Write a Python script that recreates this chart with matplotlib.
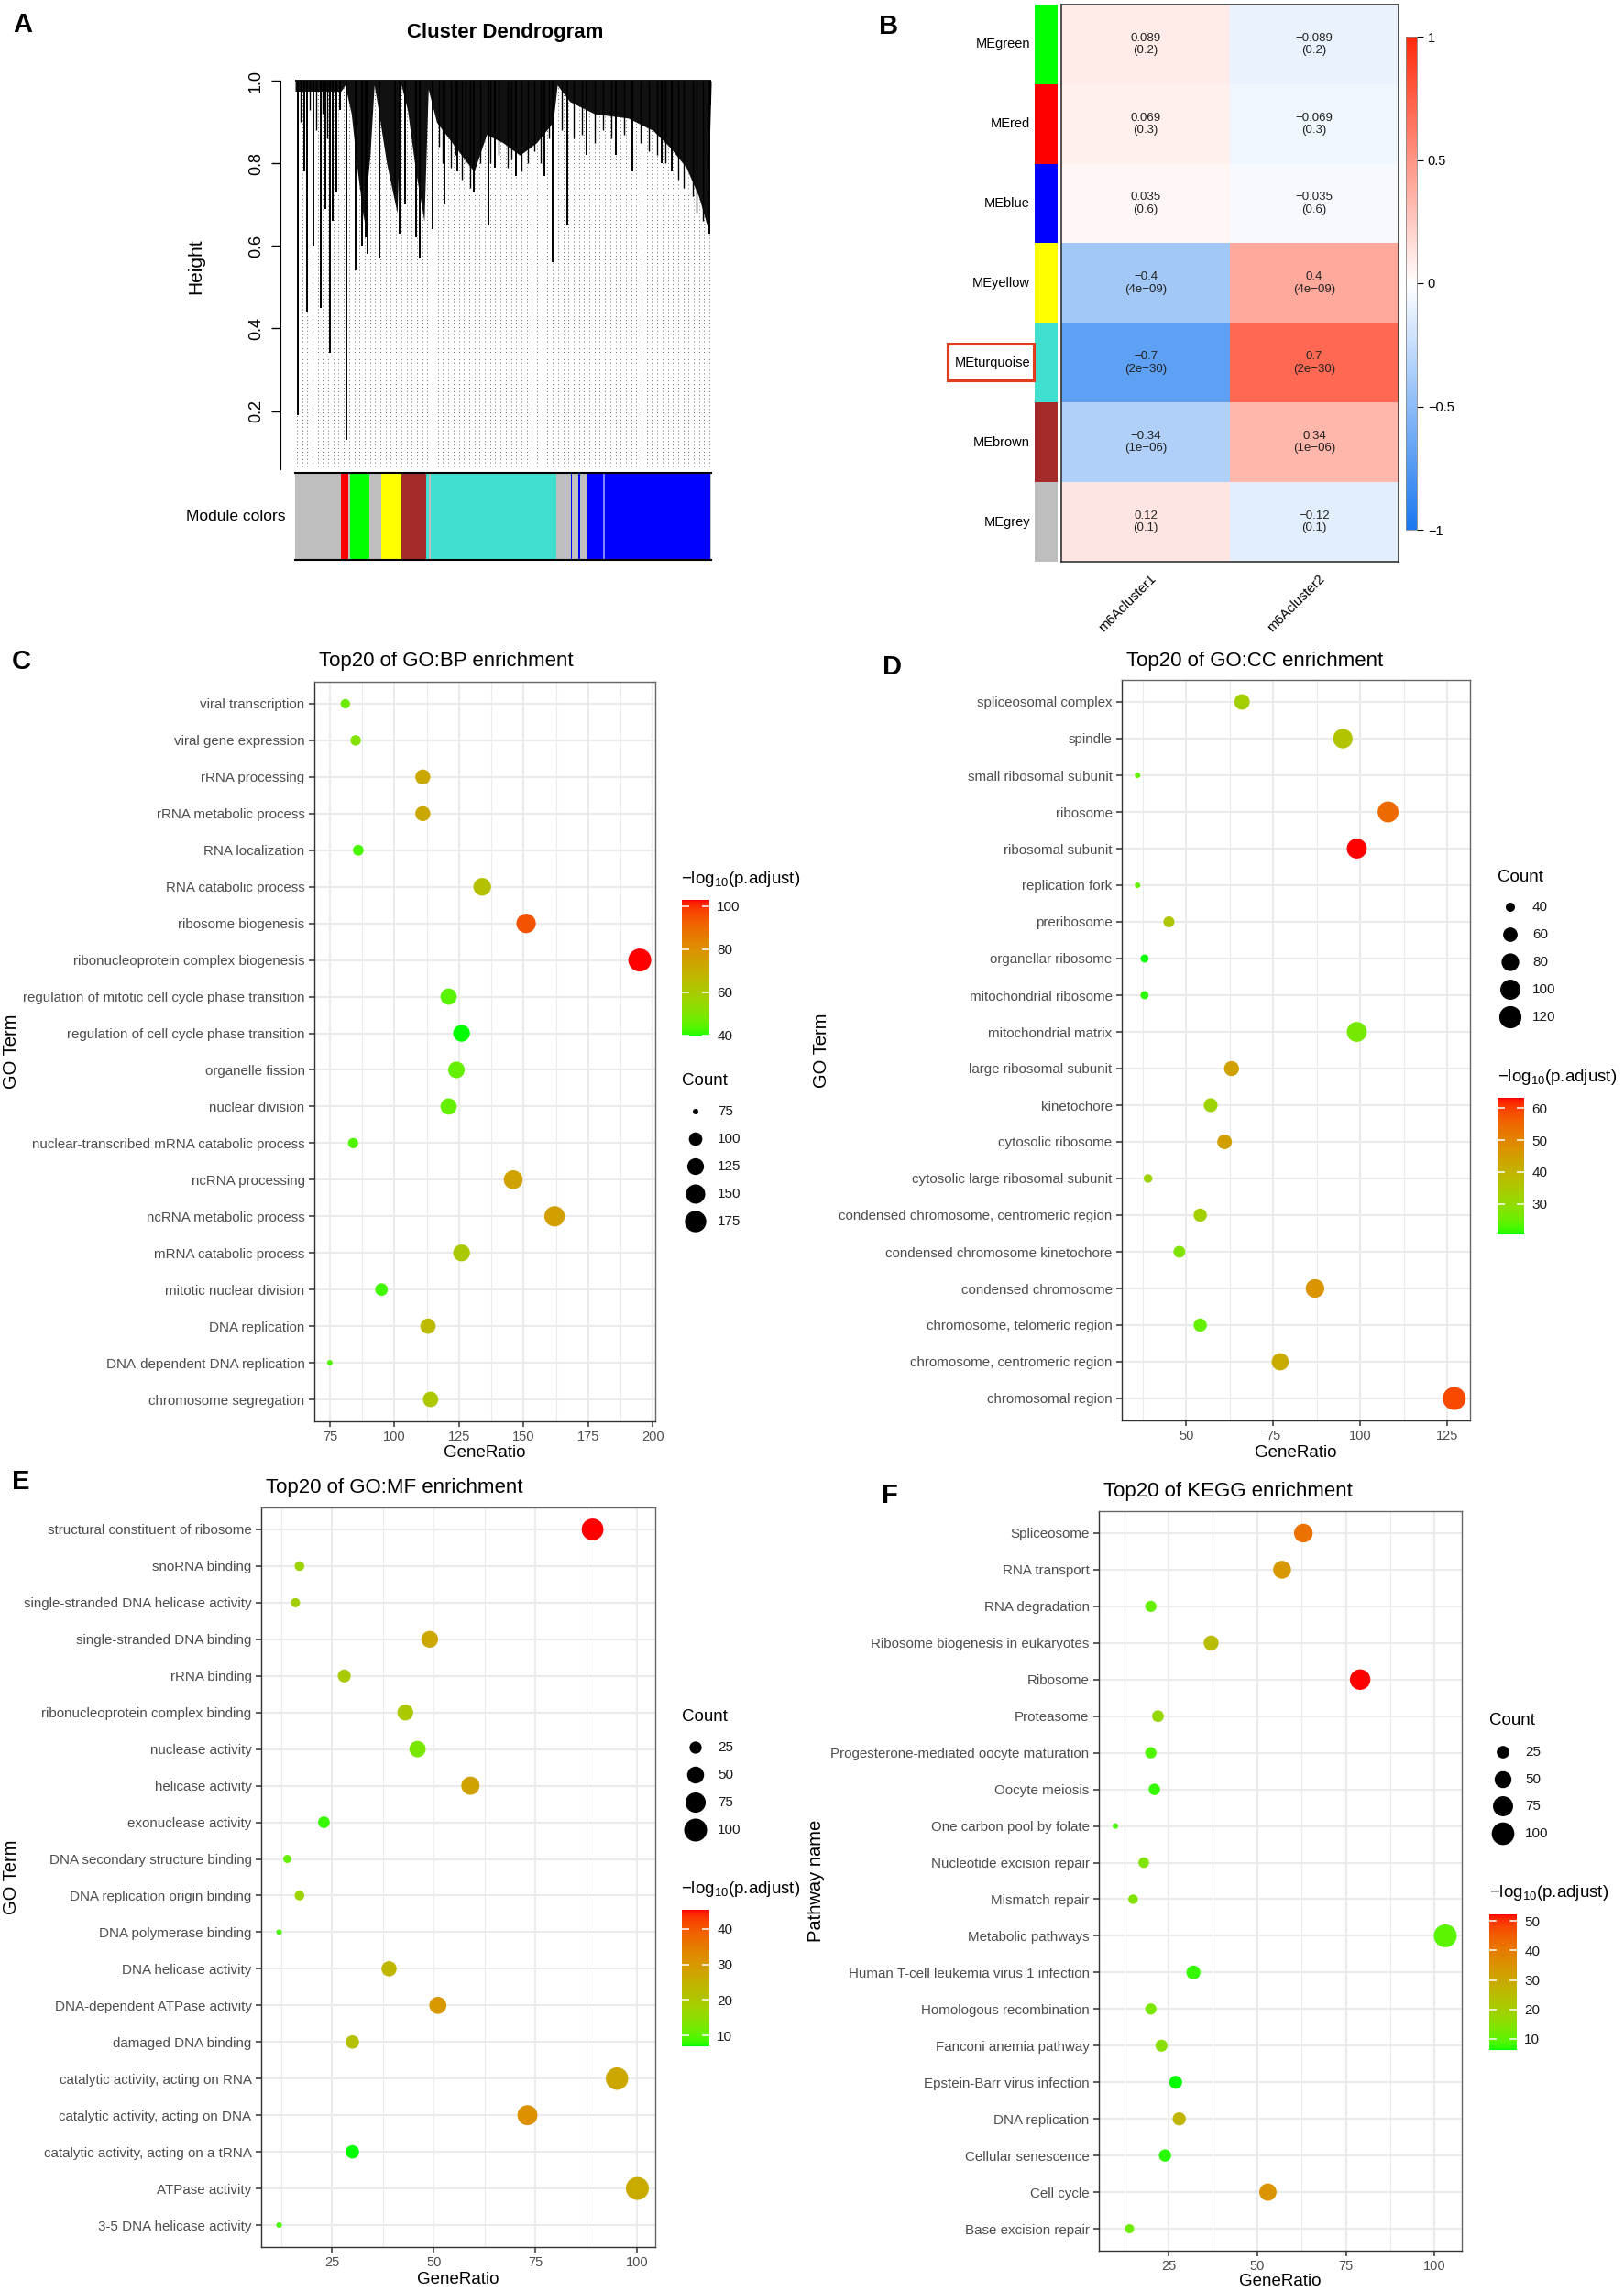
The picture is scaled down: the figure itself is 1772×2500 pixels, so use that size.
import matplotlib
matplotlib.use('Agg')
import matplotlib.pyplot as plt
import matplotlib.colors as mcolors
from matplotlib.cm import ScalarMappable
from matplotlib.patches import Rectangle
import numpy as np

plt.rcParams['font.family'] = ['Liberation Sans', 'DejaVu Sans']
plt.rcParams['mathtext.fontset'] = 'custom'
plt.rcParams['mathtext.rm'] = 'Liberation Sans'
plt.rcParams['mathtext.it'] = 'Liberation Sans:italic'

# ---------------- data ----------------
# panel A: dendrogram (leaf position as fraction of tree width, height)
dendro_env_x = [0.0, 0.11, 0.12, 0.135, 0.15, 0.165, 0.18, 0.19, 0.2, 0.22, 0.245, 0.255, 0.27, 0.29,
                0.31, 0.32, 0.34, 0.37, 0.40, 0.43, 0.46, 0.50, 0.54, 0.58, 0.62, 0.63, 0.66, 0.72,
                0.80, 0.86, 0.90, 0.94, 0.97, 0.99, 1.0]
dendro_env_h = [0.975, 0.975, 0.99, 0.92, 0.78, 0.66, 0.82, 0.99, 0.93, 0.80, 0.68, 0.99, 0.93, 0.78,
                0.66, 0.98, 0.90, 0.86, 0.82, 0.78, 0.87, 0.85, 0.82, 0.85, 0.90, 0.99, 0.95, 0.92,
                0.91, 0.88, 0.84, 0.79, 0.72, 0.65, 0.99]
dendro_spike_x = [0.006, 0.022, 0.029, 0.043, 0.061, 0.073, 0.084, 0.091, 0.099, 0.107, 0.124,
                  0.145, 0.16, 0.170, 0.175, 0.202, 0.24, 0.25, 0.265, 0.29, 0.30, 0.33, 0.36,
                  0.39, 0.43, 0.465, 0.48, 0.53, 0.60, 0.62, 0.655, 0.70, 0.77, 0.81, 0.88,
                  0.905, 0.995, 0.999]
dendro_spike_h = [0.19, 0.78, 0.44, 0.60, 0.45, 0.69, 0.34, 0.66, 0.73, 0.93, 0.13,
                  0.54, 0.60, 0.62, 0.58, 0.57, 0.72, 0.63, 0.70, 0.62, 0.57, 0.64, 0.70,
                  0.78, 0.73, 0.65, 0.79, 0.77, 0.77, 0.56, 0.65, 0.82, 0.82, 0.78, 0.80,
                  0.78, 0.63, 0.94]
# shorter branches that make the ragged lower edge of the dense clusters
dendro_twig_x = [0.013, 0.035, 0.05, 0.067, 0.078, 0.345, 0.355, 0.375, 0.385, 0.40, 0.41, 0.42,
                 0.445, 0.47, 0.49, 0.51, 0.52, 0.545, 0.56, 0.575, 0.59, 0.61, 0.64, 0.67, 0.69,
                 0.72, 0.74, 0.76, 0.79, 0.83, 0.85, 0.87, 0.89, 0.92, 0.935, 0.955, 0.965, 0.98]
dendro_twig_h = [0.90, 0.93, 0.88, 0.92, 0.86, 0.84, 0.80, 0.79, 0.82, 0.76, 0.80, 0.74,
                 0.80, 0.80, 0.82, 0.79, 0.81, 0.78, 0.80, 0.83, 0.80, 0.86, 0.88, 0.86, 0.87,
                 0.85, 0.88, 0.86, 0.87, 0.85, 0.83, 0.82, 0.80, 0.76, 0.74, 0.72, 0.68, 0.66]
module_start = [0.000, 0.110, 0.127, 0.133, 0.178, 0.206, 0.256, 0.315, 0.322, 0.326, 0.627,
                0.662, 0.680, 0.700, 0.740, 0.745, 0.998]
module_end = [0.110, 0.127, 0.133, 0.178, 0.206, 0.256, 0.315, 0.322, 0.326, 0.627, 0.700,
              0.665, 0.684, 0.740, 0.745, 0.998, 1.000]
module_color = ['#BEBEBE', '#FF0000', '#BEBEBE', '#00FF00', '#BEBEBE', '#FFFF00', '#A52A2A',
                '#40E0D0', '#BEBEBE', '#40E0D0', '#BEBEBE', '#0000FF', '#0000FF', '#0000FF',
                '#7F7FFF', '#0000FF', '#BEBEBE']

# panel B: module-trait correlation
me_names = ['MEgreen', 'MEred', 'MEblue', 'MEyellow', 'MEturquoise', 'MEbrown', 'MEgrey']
me_colors = ['#00FF00', '#FF0000', '#0000FF', '#FFFF00', '#40E0D0', '#A52A2A', '#BEBEBE']
traits = ['m6Acluster1', 'm6Acluster2']
cor_cluster1 = [0.089, 0.069, 0.035, -0.4, -0.7, -0.34, 0.12]
cor_cluster2 = [-0.089, -0.069, -0.035, 0.4, 0.7, 0.34, -0.12]
cor_pvalue = ['0.2', '0.3', '0.6', '4e-09', '2e-30', '1e-06', '0.1']

# panel C: GO BP
bp_terms = ['viral transcription', 'viral gene expression', 'rRNA processing', 'rRNA metabolic process',
            'RNA localization', 'RNA catabolic process', 'ribosome biogenesis',
            'ribonucleoprotein complex biogenesis', 'regulation of mitotic cell cycle phase transition',
            'regulation of cell cycle phase transition', 'organelle fission', 'nuclear division',
            'nuclear-transcribed mRNA catabolic process', 'ncRNA processing', 'ncRNA metabolic process',
            'mRNA catabolic process', 'mitotic nuclear division', 'DNA replication',
            'DNA-dependent DNA replication', 'chromosome segregation']
bp_count = [81, 85, 111, 111, 86, 134, 151, 195, 121, 126, 124, 121, 84, 146, 162, 126, 95, 113, 75, 114]
bp_logp = [47, 51, 72, 72, 42.5, 63.5, 95, 102.8, 44.5, 39.4, 45.7, 45.7, 43.2, 74.3, 75, 60.3, 42, 66, 43.8, 61]

# panel D: GO CC
cc_terms = ['spliceosomal complex', 'spindle', 'small ribosomal subunit', 'ribosome', 'ribosomal subunit',
            'replication fork', 'preribosome', 'organellar ribosome', 'mitochondrial ribosome',
            'mitochondrial matrix', 'large ribosomal subunit', 'kinetochore', 'cytosolic ribosome',
            'cytosolic large ribosomal subunit', 'condensed chromosome, centromeric region',
            'condensed chromosome kinetochore', 'condensed chromosome', 'chromosome, telomeric region',
            'chromosome, centromeric region', 'chromosomal region']
cc_count = [66, 95, 36, 108, 99, 36, 45, 38, 38, 99, 63, 57, 61, 39, 54, 48, 87, 54, 77, 127]
cc_logp = [33.3, 36.3, 24.7, 54.7, 63.3, 24.7, 35.4, 20.4, 21.3, 26.4, 44, 32, 44.4, 32, 33.3, 27.7, 47, 24.7, 41.9, 59]

# panel E: GO MF
mf_terms = ['structural constituent of ribosome', 'snoRNA binding', 'single-stranded DNA helicase activity',
            'single-stranded DNA binding', 'rRNA binding', 'ribonucleoprotein complex binding',
            'nuclease activity', 'helicase activity', 'exonuclease activity', 'DNA secondary structure binding',
            'DNA replication origin binding', 'DNA polymerase binding', 'DNA helicase activity',
            'DNA-dependent ATPase activity', 'damaged DNA binding', 'catalytic activity, acting on RNA',
            'catalytic activity, acting on DNA', 'catalytic activity, acting on a tRNA', 'ATPase activity',
            '3-5 DNA helicase activity']
mf_count = [89, 17, 16, 49, 28, 43, 46, 59, 23, 14, 17, 12, 39, 51, 30, 95, 73, 30, 100, 12]
mf_logp = [45.3, 17.3, 18.5, 26.9, 19.3, 20, 12.7, 28, 8.1, 10.8, 17.3, 8.9, 23.9, 30, 21.6, 26.9, 31.1, 7.0, 26.2, 8.9]

# panel F: KEGG
kegg_terms = ['Spliceosome', 'RNA transport', 'RNA degradation', 'Ribosome biogenesis in eukaryotes',
              'Ribosome', 'Proteasome', 'Progesterone-mediated oocyte maturation', 'Oocyte meiosis',
              'One carbon pool by folate', 'Nucleotide excision repair', 'Mismatch repair',
              'Metabolic pathways', 'Human T-cell leukemia virus 1 infection', 'Homologous recombination',
              'Fanconi anemia pathway', 'Epstein-Barr virus infection', 'DNA replication',
              'Cellular senescence', 'Cell cycle', 'Base excision repair']
kegg_count = [63, 57, 20, 37, 79, 22, 20, 21, 10, 18, 15, 103, 32, 20, 23, 27, 28, 24, 53, 14]
kegg_logp = [41.7, 33.9, 10.8, 24.6, 52.3, 17.7, 9, 7.6, 8.5, 14, 14, 9.9, 7.6, 13.1, 15.4, 6.2, 26.9, 7.1, 34.8, 11.7]

# ---------------- helpers ----------------
W, H = 1772, 2500
fig = plt.figure(figsize=(W / 100, H / 100), dpi=100)


def add_px_axes(x0, y0, x1, y1, **kw):
    return fig.add_axes([x0 / W, 1 - y1 / H, (x1 - x0) / W, (y1 - y0) / H], **kw)


ov = fig.add_axes([0, 0, 1, 1], zorder=5)
ov.set_xlim(0, W)
ov.set_ylim(H, 0)
ov.axis('off')


def lab_gradient(c0, c1, n=256):
    # ggplot-like gradient, interpolated in Lab space
    M = np.array([[0.4124, 0.3576, 0.1805], [0.2126, 0.7152, 0.0722], [0.0193, 0.1192, 0.9505]])
    white = np.array([0.95047, 1.0, 1.08883])

    def to_lab(c):
        rgb = np.array(mcolors.to_rgb(c))
        lin = np.where(rgb > 0.04045, ((rgb + 0.055) / 1.055) ** 2.4, rgb / 12.92)
        xyz = M @ lin / white
        f = np.where(xyz > 0.008856, np.cbrt(xyz), 7.787 * xyz + 16 / 116)
        return np.array([116 * f[1] - 16, 500 * (f[0] - f[1]), 200 * (f[1] - f[2])])

    l0, l1 = to_lab(c0), to_lab(c1)
    t = np.linspace(0, 1, n)[:, None]
    lab = l0 + (l1 - l0) * t
    fy = (lab[:, 0] + 16) / 116
    f = np.stack([fy + lab[:, 1] / 500, fy, fy - lab[:, 2] / 200], axis=1)
    xyz = np.where(f ** 3 > 0.008856, f ** 3, (f - 16 / 116) / 7.787) * white
    lin = xyz @ np.linalg.inv(M).T
    lin = np.clip(lin, 0, None)
    rgb = np.where(lin > 0.0031308, 1.055 * lin ** (1 / 2.4) - 0.055, 12.92 * lin)
    return mcolors.ListedColormap(np.clip(rgb, 0, 1))


gr_cmap = lab_gradient('#00FF00', '#FF0000')
bwr_cmap = mcolors.LinearSegmentedColormap.from_list('bwr_w', ['#1A78F0', '#FFFFFF', '#FF2A0A'])


def dot_size(vals, lo, hi):
    t = np.clip((np.asarray(vals, float) - lo) / (hi - lo), 0, 1)
    d_px = 6 + 19 * np.sqrt(t)
    return (d_px * 0.72) ** 2


def dot_panel(terms, counts, logp, lay):
    ax = add_px_axes(*lay['rect'])
    n = len(terms)
    ypos = np.arange(n)[::-1]
    lo, hi = min(counts), max(counts)
    pad = 0.05 * (hi - lo)
    norm = mcolors.Normalize(min(logp), max(logp))
    ax.scatter(counts, ypos, s=dot_size(counts, lo, hi), c=logp, cmap=gr_cmap, norm=norm,
               edgecolors='none', zorder=3)
    ax.set_xlim(lo - pad, hi + pad)
    ax.set_ylim(-0.6, n - 0.4)
    ax.set_yticks(ypos)
    ax.set_yticklabels(terms)
    ticks = lay['ticks']
    ax.set_xticks(ticks)
    step = ticks[1] - ticks[0]
    minors = [t - step / 2 for t in ticks] + [ticks[-1] + step / 2]
    minors = [m for m in minors if lo - pad < m < hi + pad]
    ax.set_xticks(minors, minor=True)
    ax.tick_params(axis='x', which='minor', length=0)
    ax.grid(which='major', color='#EBEBEB', lw=1.5)
    ax.grid(which='minor', axis='x', color='#EBEBEB', lw=0.8)
    ax.set_axisbelow(True)
    ax.tick_params(which='major', length=4, width=1.1, color='#333333', labelcolor='#4D4D4D',
                   labelsize=10.5)
    ax.tick_params(axis='y', labelsize=10.9)
    for sp in ax.spines.values():
        sp.set_color('#666666')
        sp.set_linewidth(1.0)
    ax.spines['left'].set_color('#333333')
    ax.spines['bottom'].set_color('#333333')

    x0, y0, x1, y1 = lay['rect']
    ov.text(lay['title'][0], lay['title'][1], lay['title_text'], fontsize=16, ha='center', va='center')
    ov.text(lay['letter'][0], lay['letter'][1], lay['letter_text'], fontsize=21, fontweight='bold',
            ha='center', va='center')
    ov.text((x0 + x1) / 2, lay['xlabel_y'], 'GeneRatio', fontsize=13.5, ha='center', va='center')
    ov.text(lay['ylabel'][0], lay['ylabel'][1], lay['ylabel_text'], fontsize=14.5, rotation=90,
            ha='center', va='center')

    # size legend
    tx, ty = lay['count_title']
    ov.text(tx, ty, 'Count', fontsize=13.5, ha='left', va='center')
    cx = lay['count_x']
    for v, cy in zip(lay['count_vals'], lay['count_ys']):
        ov.scatter([cx], [cy], s=dot_size([v], lo, hi), color='black', edgecolors='none')
        ov.text(cx + 24, cy, str(v), fontsize=11, ha='left', va='center', color='#1A1A1A')

    # colour legend
    tx, ty = lay['cbar_title']
    ov.text(tx, ty, '\u2212log$_{10}$(p.adjust)', fontsize=13.5, ha='left', va='center')
    cax = add_px_axes(*lay['cbar_rect'])
    cb = fig.colorbar(ScalarMappable(norm=norm, cmap=gr_cmap), cax=cax, ticks=lay['cbar_ticks'])
    cb.outline.set_visible(False)
    cax.yaxis.set_ticks_position('both')
    cax.tick_params(axis='y', direction='in', length=6, width=1.1, color='white', labelsize=11,
                    labelcolor='#1A1A1A', labelleft=False, labelright=True, pad=6)
    return ax


# ---------------- panel A: dendrogram ----------------
axd = add_px_axes(322, 86, 776, 512)
axd.set_xlim(0, 1)
axd.set_ylim(0.059, 1.005)
leaf_x = np.linspace(0.004, 0.996, 80)
axd.vlines(leaf_x, 0.065, 0.99, colors='#666666', linestyles=(0, (1, 3)), lw=0.7, zorder=1)
axd.fill_between(dendro_env_x, dendro_env_h, 1.0, color='#111111', lw=0, zorder=2)
axd.vlines(dendro_spike_x, dendro_spike_h, 1.0, colors='black', lw=1.4, zorder=3)
axd.vlines(dendro_twig_x, dendro_twig_h, 1.0, colors='black', lw=1.0, zorder=3)
axd.hlines(1.0, 0, 1, colors='black', lw=1.3, zorder=3)
for s in ['top', 'right', 'bottom']:
    axd.spines[s].set_visible(False)
axd.spines['left'].set_position(('outward', 11.5))
axd.spines['left'].set_bounds(0.059, 1.0)
axd.set_xticks([])
axd.set_yticks([0.2, 0.4, 0.6, 0.8, 1.0])
axd.set_yticklabels(['0.2', '0.4', '0.6', '0.8', '1.0'], rotation=90, va='center')
axd.tick_params(axis='y', length=7, width=1, labelsize=13, pad=6)
ov.text(214, 291, 'Height', fontsize=15, rotation=90, ha='center', va='center')
ov.text(551, 35, 'Cluster Dendrogram', fontsize=16, fontweight='bold', ha='center', va='center')
ov.text(25, 27, 'A', fontsize=21, fontweight='bold', ha='center', va='center')

axm = add_px_axes(322, 516, 776, 611)
axm.barh([0] * len(module_start), np.subtract(module_end, module_start), left=module_start,
         color=module_color, height=1, lw=0)
axm.set_xlim(0, 1)
axm.set_ylim(-0.5, 0.5)
axm.set_xticks([])
axm.set_yticks([])
for s in ['left', 'right']:
    axm.spines[s].set_visible(False)
for s in ['top', 'bottom']:
    axm.spines[s].set_linewidth(1.5)
ov.text(312, 563, 'Module colors', fontsize=12.5, ha='right', va='center')

# ---------------- panel B: heatmap ----------------
corr = np.column_stack([cor_cluster1, cor_cluster2])
axh = add_px_axes(1158, 5, 1526, 613)
axh.imshow(corr, cmap=bwr_cmap, vmin=-1, vmax=1, aspect='auto', interpolation='nearest')
for i in range(len(me_names)):
    for j in range(len(traits)):
        val = '{:g}'.format(corr[i, j]).replace('-', '\u2212')
        p = cor_pvalue[i].replace('-', '\u2212')
        axh.text(j, i, '{}\n({})'.format(val, p), ha='center', va='center', fontsize=9.5,
                 color='#222222', linespacing=1.15)
axh.set_xticks([])
axh.set_yticks([])
for sp in axh.spines.values():
    sp.set_linewidth(1.2)
    sp.set_color('#333333')

axs = add_px_axes(1129, 5, 1154, 613)
axs.imshow(np.arange(len(me_colors))[:, None], cmap=mcolors.ListedColormap(me_colors),
           aspect='auto', interpolation='nearest')
axs.axis('off')

row_h = (613 - 5) / len(me_names)
for i, name in enumerate(me_names):
    ov.text(1124, 5 + (i + 0.5) * row_h, name, fontsize=10.5, ha='right', va='center')
col_w = (1526 - 1158) / len(traits)
for j, name in enumerate(traits):
    ov.text(1158 + (j + 0.5) * col_w + 4, 624, name, fontsize=10.5, rotation=45,
            rotation_mode='anchor', ha='right', va='top')
ov.add_patch(Rectangle((1034, 375), 94, 40, fill=False, ec='#E23B1E', lw=2.2))
ov.text(970, 29, 'B', fontsize=21, fontweight='bold', ha='center', va='center')

cbx = add_px_axes(1534, 40, 1546, 578)
cbb = fig.colorbar(ScalarMappable(norm=mcolors.Normalize(-1, 1), cmap=bwr_cmap), cax=cbx,
                   ticks=[-1, -0.5, 0, 0.5, 1])
cbb.outline.set_linewidth(0.6)
cbb.outline.set_edgecolor('#888888')
cbx.set_yticklabels(['\u22121', '\u22120.5', '0', '0.5', '1'])
cbx.tick_params(length=5, width=0.8, labelsize=10.5)

# ---------------- panels C-F: enrichment dot plots ----------------
dot_panel(bp_terms, bp_count, bp_logp, dict(
    rect=(343, 744, 715, 1551), ticks=[75, 100, 125, 150, 175, 200],
    title=(487, 721), title_text='Top20 of GO:BP enrichment', letter=(23, 722), letter_text='C',
    xlabel_y=1585, ylabel=(13, 1147), ylabel_text='GO Term',
    count_title=(744, 1180), count_x=759, count_ys=[1213, 1243, 1273, 1303, 1333],
    count_vals=[75, 100, 125, 150, 175],
    cbar_title=(743, 960), cbar_rect=(744, 982, 774, 1131), cbar_ticks=[40, 60, 80, 100]))

dot_panel(cc_terms, cc_count, cc_logp, dict(
    rect=(1224, 742, 1604, 1550), ticks=[50, 75, 100, 125],
    title=(1369, 721), title_text='Top20 of GO:CC enrichment', letter=(974, 728), letter_text='D',
    xlabel_y=1585, ylabel=(897, 1146), ylabel_text='GO Term',
    count_title=(1634, 957), count_x=1648, count_ys=[990, 1020, 1050, 1080, 1110],
    count_vals=[40, 60, 80, 100, 120],
    cbar_title=(1634, 1175), cbar_rect=(1634, 1198, 1663, 1347), cbar_ticks=[30, 40, 50, 60]))

dot_panel(mf_terms, mf_count, mf_logp, dict(
    rect=(285, 1645, 715, 2452), ticks=[25, 50, 75, 100],
    title=(430, 1623), title_text='Top20 of GO:MF enrichment', letter=(23, 1617), letter_text='E',
    xlabel_y=2487, ylabel=(13, 2048), ylabel_text='GO Term',
    count_title=(744, 1873), count_x=759, count_ys=[1907, 1937, 1967, 1997],
    count_vals=[25, 50, 75, 100],
    cbar_title=(743, 2062), cbar_rect=(744, 2084, 774, 2233), cbar_ticks=[10, 20, 30, 40]))

dot_panel(kegg_terms, kegg_count, kegg_logp, dict(
    rect=(1199, 1649, 1595, 2456), ticks=[25, 50, 75, 100],
    title=(1340, 1627), title_text='Top20 of KEGG enrichment', letter=(971, 1632), letter_text='F',
    xlabel_y=2489, ylabel=(891, 2052), ylabel_text='Pathway name',
    count_title=(1625, 1877), count_x=1640, count_ys=[1912, 1942, 1971, 2001],
    count_vals=[25, 50, 75, 100],
    cbar_title=(1625, 2065), cbar_rect=(1625, 2089, 1655, 2237), cbar_ticks=[10, 20, 30, 40, 50]))

fig.savefig('out.png', dpi=100)
